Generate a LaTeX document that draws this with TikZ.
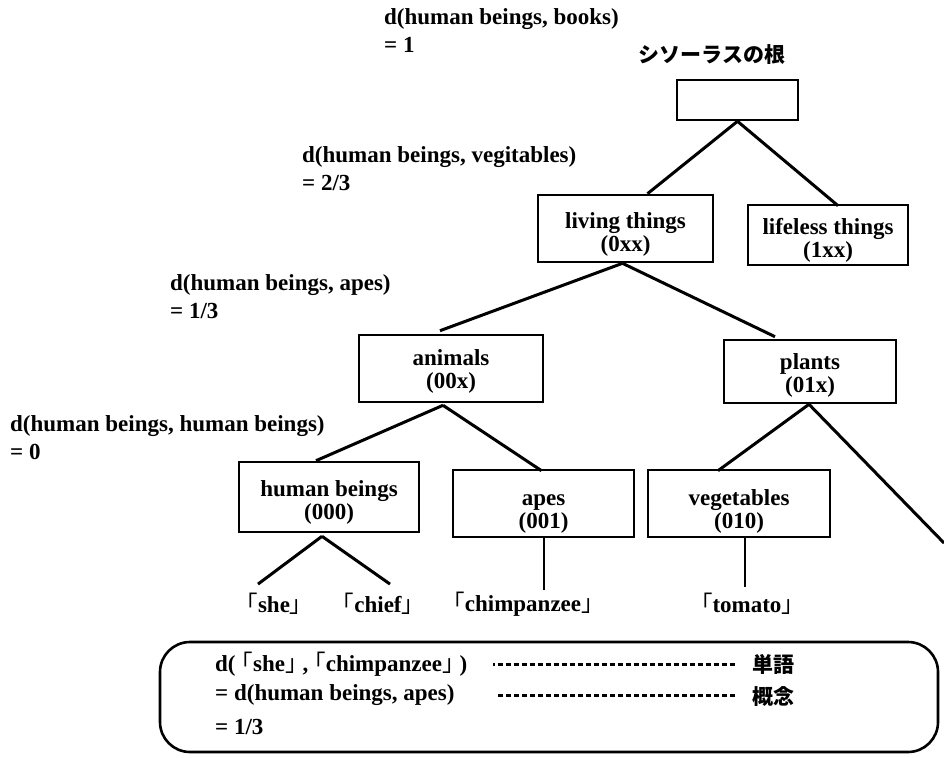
\documentclass[tikz,border=0pt]{standalone}
\usepackage{fontspec}
\setmainfont{Liberation Serif}
\newfontfamily\cjk{Noto Sans CJK JP}
\usetikzlibrary{calc}
\tikzset{
  lbl/.style={font=\fontsize{23}{28}\selectfont\bfseries, align=left, inner sep=0pt, anchor=west},
  box/.style={draw, line width=2.6pt, inner sep=0pt, align=center,
              font=\fontsize{23}{23}\selectfont\bfseries},
  edge/.style={line width=3pt},
  stem/.style={line width=2pt},
  leaf/.style={font=\fontsize{23}{26}\selectfont\bfseries, inner sep=0pt},
  dots/.style={line width=3pt, dash pattern=on 5pt off 3pt},
  jp/.style={font=\cjk\bfseries\fontsize{21}{24}\selectfont, inner sep=0pt},
}
\newcommand{\kagiL}{{\cjk\mdseries ｢}}
\newcommand{\kagiR}{{\cjk\mdseries ｣}}
% two centred lines of box text, lowered by #1 (zero-size so the frame keeps its size)
\newcommand{\btext}[2]{\raisebox{-#1}[0pt][0pt]{\begin{tabular}{@{}c@{}}#2\end{tabular}}}
\begin{document}
\begin{tikzpicture}[x=1pt,y=-1pt]
\useasboundingbox[fill=white] (0,0) rectangle (944,757);

% distance labels on the left
\node[lbl] (dbooks) at (384,31) {d(human beings, books)\\= 1};
\node[lbl] (dveg) at (302,169) {d(human beings, vegitables)\\= 2/3};
\node[lbl] (dapes) at (170,297) {d(human beings, apes)\\= 1/3};
\node[lbl] (dhum) at (10,438) {d(human beings, human beings)\\= 0};

% thesaurus tree
\node[jp] (title) at (712,55) {シソーラスの根};
\node[box, minimum width=121pt, minimum height=40pt] (root) at (737.5,100) {};
\node[box, minimum width=175pt, minimum height=67pt] (living) at (625.5,228.5) {\btext{13pt}{living things\\(0xx)}};
\node[box, minimum width=160pt, minimum height=60pt] (lifeless) at (828,235) {\btext{13pt}{lifeless things\\(1xx)}};
\node[box, minimum width=184pt, minimum height=67pt] (animals) at (451,368.5) {\btext{10pt}{animals\\(00x)}};
\node[box, minimum width=172pt, minimum height=63pt] (plants) at (810,371.5) {\btext{11pt}{plants\\(01x)}};
\node[box, minimum width=180pt, minimum height=70pt] (human) at (329,497) {\btext{13pt}{human beings\\(000)}};
\node[box, minimum width=181pt, minimum height=67pt] (apes) at (543.5,503.5) {\btext{15pt}{apes\\(001)}};
\node[box, minimum width=182pt, minimum height=67pt] (veg) at (739,503.5) {\btext{15pt}{vegetables\\(010)}};
\coordinate (offright) at (944,543);

% words
\node[leaf] (she) at (274,604) {\kagiL she\kagiR};
\node[leaf] (chief) at (378,604) {\kagiL chief\kagiR};
\node[leaf] (chimp) at (523,604) {\kagiL chimpanzee\kagiR};
\node[leaf] (tomato) at (747,604) {\kagiL tomato\kagiR};

% tree edges
\draw[edge] (root.south) -- ($(living.north)+(22,0)$);
\draw[edge] (root.south) -- ($(lifeless.north)+(10,2)$);
\draw[edge] ($(living.south)+(-3,0)$) -- ($(animals.north)+(-11,-3)$);
\draw[edge] ($(living.south)+(-3,0)$) -- ($(plants.north)+(-35,-2)$);
\draw[edge] ($(animals.south)+(-8,2)$) -- ($(human.north)+(-13,0)$);
\draw[edge] ($(animals.south)+(-8,2)$) -- ($(apes.north)+(-2,2)$);
\draw[edge] ($(plants.south)+(-1,0)$) -- ($(veg.north)+(-21,2)$);
\draw[edge] ($(plants.south)+(-1,0)$) -- (offright);
\draw[edge] ($(human.south)+(-7,3)$) -- ($(she.north)+(-16,-9)$);
\draw[edge] ($(human.south)+(-7,3)$) -- ($(chief.north)+(12,-9)$);
\draw[stem] (apes.south) -- ($(apes.south |- chimp.north)+(0,-2)$);
\draw[stem] ($(veg.south)+(6,0)$) -- ($(veg.south |- tomato.north)+(6,-6)$);

% summary panel
\node[draw, line width=2.6pt, rounded corners=30pt, minimum width=778pt, minimum height=110pt,
      inner sep=0pt] (panel) at (549,697) {};
\node[lbl] (eq1) at (215,664) {d(\hspace{6pt}\kagiL she\kagiR\hspace{6pt},\hspace{6pt}\kagiL chimpanzee\kagiR\hspace{6pt})};
\node[lbl] (eq2) at (215,695) {= d(human beings, apes)};
\node[lbl] (eq3) at (215,727) {= 1/3};
\node[jp, anchor=west] (tango) at (752,664) {単語};
\node[jp, anchor=west] (gainen) at (752,697) {概念};
\draw[dots] ($(tango.west)+(-17,0)$) -- ($(tango.west)+(-259,0)$);
\draw[dots] ($(gainen.west)+(-17,-2)$) -- ($(gainen.west)+(-254,-2)$);
\end{tikzpicture}
\end{document}
